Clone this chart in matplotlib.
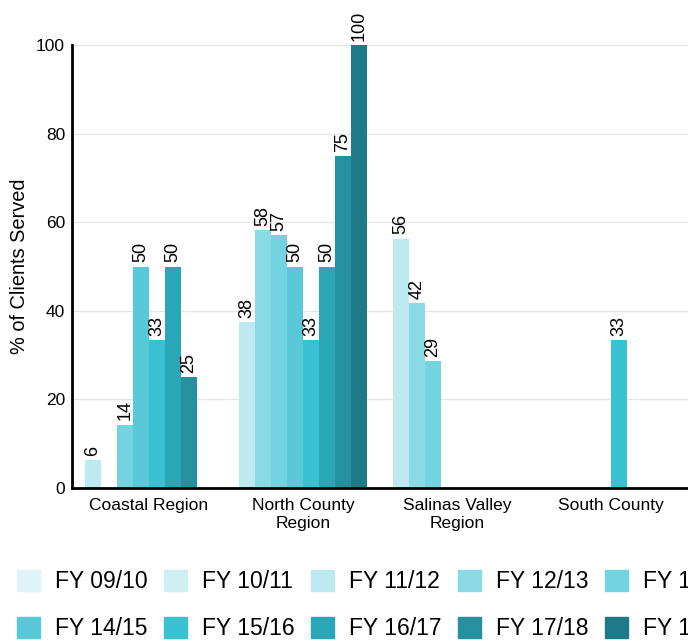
import numpy as np
import matplotlib.pyplot as plt
import matplotlib.patches as mpatches

plt.rcParams['font.family'] = ['Liberation Sans', 'DejaVu Sans']

regions = ['Coastal Region', 'North County\nRegion', 'Salinas Valley\nRegion', 'South County']
series = ['FY 09/10', 'FY 10/11', 'FY 11/12', 'FY 12/13', 'FY 13/14',
          'FY 14/15', 'FY 15/16', 'FY 16/17', 'FY 17/18', 'FY 18/19']
colors = ['#def4f8', '#cdeff4', '#bde9f0', '#8adae6', '#74d3e0',
          '#59c9da', '#38c0d3', '#29a6b7', '#2490a0', '#1f7a88']

nan = np.nan
# values per region, one per fiscal year
coastal = [nan, nan, 6.25, nan, 14.3, 50, 33.3, 50, 25, nan]
north = [nan, nan, 37.5, 58.3, 57.1, 50, 33.3, 50, 75, 100]
salinas = [nan, nan, 56.3, 41.7, 28.6, nan, nan, nan, nan, nan]
south = [nan, nan, nan, nan, nan, nan, 33.3, nan, nan, nan]

data = np.array([coastal, north, salinas, south])

fig = plt.figure(figsize=(6.88, 6.41), dpi=100)
ax = fig.add_axes([72/688, 1-488/641, 1-72/688, (488-45)/641])

x = np.arange(len(regions))
# series without any data take no slot in the group
active = [i for i in range(len(series)) if not np.all(np.isnan(data[:, i]))]
n = len(active)
w = (128/154) / n

for k, i in enumerate(active):
    vals = data[:, i]
    pos = x + (k - (n - 1) / 2) * w
    ax.bar(pos, np.nan_to_num(vals), w, color=colors[i], zorder=3)
    for p, v in zip(pos, vals):
        if not np.isnan(v):
            ax.annotate(f'{v:.0f}', (p, v), xytext=(0, 3), textcoords='offset points',
                        ha='center', va='bottom', rotation=90, fontsize=13,
                        annotation_clip=False)

ax.set_xlim(-0.5, len(regions) - 0.5)
ax.set_ylim(0, 100)
ax.set_yticks([0, 20, 40, 60, 80, 100])
ax.set_xticks(x)
ax.set_xticklabels(regions, fontsize=12.5, linespacing=1.25)
ax.tick_params(axis='both', length=0, labelsize=12.5)
ax.tick_params(axis='y', pad=5)
ax.tick_params(axis='x', pad=7)
ax.set_ylabel('% of Clients Served', fontsize=14.4, labelpad=5)
ax.grid(axis='y', color='#e6e6e6', linewidth=1, zorder=0)
ax.set_axisbelow(True)
for s in ['top', 'right']:
    ax.spines[s].set_visible(False)
for s in ['left', 'bottom']:
    ax.spines[s].set_linewidth(2)
    ax.spines[s].set_color('black')
    ax.spines[s].set_zorder(4)

handles = [mpatches.Patch(color=c, label=s) for s, c in zip(series, colors)]
order = [0, 5, 1, 6, 2, 7, 3, 8, 4, 9]
fig.legend([handles[i] for i in order], [series[i] for i in order], ncol=5,
           loc='upper left', bbox_to_anchor=(17/688, 1-570/641), frameon=False,
           fontsize=16.5, handlelength=1.0, handleheight=1.0, handletextpad=0.65,
           columnspacing=0.73, labelspacing=1.05, borderpad=0, borderaxespad=0)

fig.savefig('out.png', dpi=100)
